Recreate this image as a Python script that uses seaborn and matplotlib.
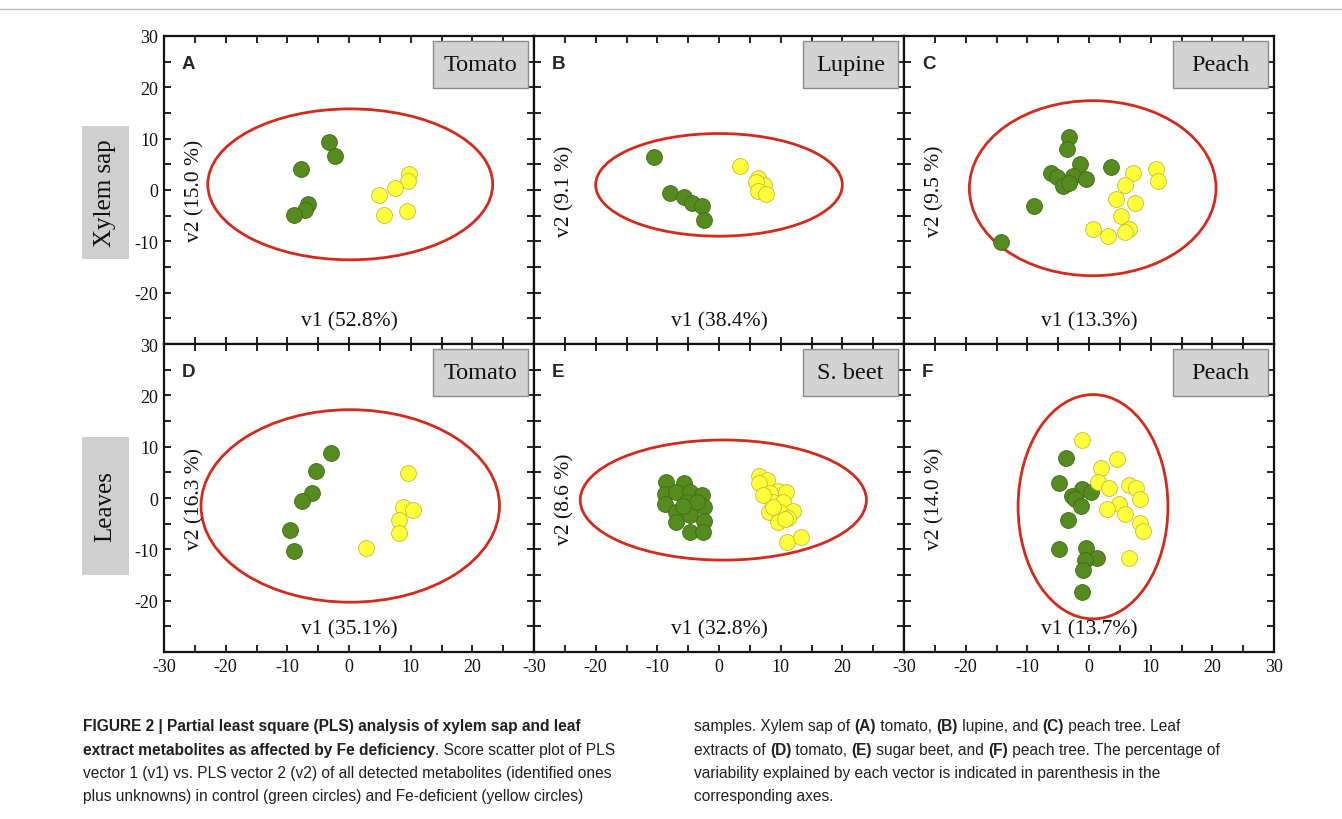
import numpy as np
import pandas as pd
import seaborn as sns
import matplotlib.pyplot as plt
from matplotlib.patches import Ellipse, Rectangle
from matplotlib.ticker import MultipleLocator

# panel data: control (green) and Fe-deficient (yellow) scores, v1 / v2
a_ctrl_x = [-3.2, -2.2, -7.8, -6.6, -7.2, -8.9]
a_ctrl_y = [9.3, 6.6, 4.1, -2.7, -3.9, -4.8]
a_fe_x = [9.8, 9.6, 7.4, 4.9, 5.7, 9.4]
a_fe_y = [3.1, 1.8, 0.3, -0.9, -4.8, -4.0]

b_ctrl_x = [-10.5, -7.9, -5.7, -4.4, -2.8, -2.4]
b_ctrl_y = [6.4, -0.5, -1.3, -2.5, -3.1, -5.8]
b_fe_x = [3.4, 6.3, 7.3, 6.0, 6.4, 7.6]
b_fe_y = [4.6, 2.3, 1.0, 1.5, -0.1, -0.8]

c_ctrl_x = [-3.3, -3.6, -1.5, -6.2, -5.2, -2.6, -4.2, -3.2, -0.5, 3.6, -9.0, -14.3]
c_ctrl_y = [10.4, 8.0, 5.0, 3.4, 2.5, 2.8, 0.8, 1.4, 2.1, 4.4, -3.2, -10.1]
c_fe_x = [7.2, 10.9, 11.2, 5.8, 4.4, 7.5, 5.2, 0.7, 3.0, 6.5, 5.8]
c_fe_y = [3.3, 4.0, 1.7, 1.0, -1.8, -2.6, -5.0, -7.5, -8.9, -7.6, -8.1]

d_ctrl_x = [-3.0, -5.4, -6.0, -7.7, -9.5, -9.0]
d_ctrl_y = [8.8, 5.2, 1.0, -0.6, -6.2, -10.3]
d_fe_x = [9.6, 8.8, 10.3, 8.1, 8.1, 2.7]
d_fe_y = [4.9, -1.8, -2.4, -4.2, -6.9, -9.7]

e_ctrl_x = [-8.6, -5.7, -8.8, -6.9, -4.7, -2.7, -8.8, -5.2, -2.5, -7.0,
            -4.7, -2.4, -6.9, -4.7, -2.6, -3.6, -5.8]
e_ctrl_y = [3.2, 2.9, 0.8, 1.1, 1.2, 0.5, -1.2, -0.8, -1.8, -2.7,
            -3.4, -4.4, -4.6, -6.7, -6.7, -0.8, -1.5]
e_fe_x = [6.5, 7.8, 6.5, 9.6, 10.8, 8.3, 8.8, 10.4, 12.0, 8.1,
          9.9, 11.2, 9.6, 10.7, 11.0, 13.3, 8.8, 7.2]
e_fe_y = [4.2, 3.6, 2.9, 1.4, 1.2, 1.0, -0.8, -0.8, -2.5, -2.8,
          -2.8, -3.8, -4.7, -4.0, -8.5, -7.5, -1.8, 0.5]

f_ctrl_x = [-3.7, -4.8, -1.1, 0.4, -2.7, -2.2, -1.3, -3.4, -4.8, -0.5,
            1.3, -0.6, -0.9, -1.1]
f_ctrl_y = [7.8, 2.9, 1.8, 1.1, 0.3, -0.2, -1.5, -4.2, -9.9, -9.7,
            -11.6, -12.0, -14.0, -18.4]
f_fe_x = [-1.2, 4.5, 2.0, 1.4, 3.2, 6.5, 7.6, 8.2, 4.8, 2.9, 5.8, 8.2, 8.8, 6.5]
f_fe_y = [11.3, 7.6, 5.8, 3.2, 2.0, 2.6, 2.0, -0.2, -1.2, -2.1, -3.1, -4.9,
          -6.5, -11.6]

# confidence ellipses: centre x, centre y, width, height
ell_cx = [0.2, 0.0, 0.6, 0.2, 0.7, 0.65]
ell_cy = [1.1, 1.0, 0.35, -1.55, -0.4, -1.7]
ell_w = [46.2, 40.0, 40.0, 48.4, 46.4, 24.3]
ell_h = [29.4, 20.0, 34.1, 37.5, 23.4, 43.7]

letters = ["A", "B", "C", "D", "E", "F"]
species = ["Tomato", "Lupine", "Peach", "Tomato", "S. beet", "Peach"]
v1_labels = ["v1 (52.8%)", "v1 (38.4%)", "v1 (13.3%)",
             "v1 (35.1%)", "v1 (32.8%)", "v1 (13.7%)"]
v2_labels = ["v2 (15.0 %)", "v2 (9.1 %)", "v2 (9.5 %)",
             "v2 (16.3 %)", "v2 (8.6 %)", "v2 (14.0 %)"]
row_labels = ["Xylem sap", "Leaves"]

panels = [
    (a_ctrl_x, a_ctrl_y, a_fe_x, a_fe_y),
    (b_ctrl_x, b_ctrl_y, b_fe_x, b_fe_y),
    (c_ctrl_x, c_ctrl_y, c_fe_x, c_fe_y),
    (d_ctrl_x, d_ctrl_y, d_fe_x, d_fe_y),
    (e_ctrl_x, e_ctrl_y, e_fe_x, e_fe_y),
    (f_ctrl_x, f_ctrl_y, f_fe_x, f_fe_y),
]

sns.set_style("ticks")
plt.rcParams['font.family'] = ['Liberation Serif', 'DejaVu Serif']
plt.rcParams['axes.unicode_minus'] = False

GREEN, GREEN_EDGE = "#558b1f", "#3f6a14"
YELLOW, YELLOW_EDGE = "#ffff3a", "#c2bb3a"
RED = "#d42a1c"
SANS = ['Liberation Sans', 'DejaVu Sans']

W, H = 1342, 820
fig = plt.figure(figsize=(W / 100, H / 100), dpi=100)
fig.patch.set_facecolor("white")

lefts = [164, 534, 904]
tops = [37, 345]
pw, ph = 370, 308

for i, (cx, cy, fx, fy) in enumerate(panels):
    r, c = divmod(i, 3)
    ax = fig.add_axes([lefts[c] / W, 1 - (tops[r] + ph) / H, pw / W, ph / H])
    df_c = pd.DataFrame({"v1": cx, "v2": cy})
    df_f = pd.DataFrame({"v1": fx, "v2": fy})
    sns.scatterplot(data=df_c, x="v1", y="v2", ax=ax, color=GREEN, s=130,
                    edgecolor=GREEN_EDGE, linewidth=0.6, zorder=3)
    sns.scatterplot(data=df_f, x="v1", y="v2", ax=ax, color=YELLOW, s=130,
                    edgecolor=YELLOW_EDGE, linewidth=0.6, zorder=3)
    ax.add_patch(Ellipse((ell_cx[i], ell_cy[i]), ell_w[i], ell_h[i],
                         fill=False, edgecolor=RED, lw=2.0, zorder=2))
    ax.set_xlim(-30, 30)
    ax.set_ylim(-30, 30)
    ax.set_xlabel("")
    ax.set_ylabel("")
    ax.xaxis.set_major_locator(MultipleLocator(10))
    ax.xaxis.set_minor_locator(MultipleLocator(5))
    ax.yaxis.set_major_locator(MultipleLocator(10))
    ax.yaxis.set_minor_locator(MultipleLocator(5))
    ax.tick_params(which="both", direction="in", top=True, right=True,
                   length=5, width=1.3, labelsize=13, pad=4, colors="#111111")
    for sp in ax.spines.values():
        sp.set_linewidth(1.6)
        sp.set_color("#111111")
        sp.set_visible(True)

    if c == 0:
        ax.set_yticks([-20, -10, 0, 10, 20, 30])
        ax.yaxis.set_minor_locator(MultipleLocator(5))
    else:
        ax.tick_params(axis="y", labelleft=False)
    if r == 1:
        if c < 2:
            ax.set_xticks([-30, -20, -10, 0, 10, 20])
            ax.xaxis.set_minor_locator(MultipleLocator(5))
    else:
        ax.tick_params(axis="x", labelbottom=False)

    ax.text(0.048, 0.911, letters[i], transform=ax.transAxes, family=SANS,
            fontweight="bold", fontsize=13.5, ha="left", va="center")
    ax.add_patch(Rectangle((0.726, 0.83), 0.259, 0.155, transform=ax.transAxes,
                           facecolor="#d3d3d3", edgecolor="#8c8c8c", lw=1.0,
                           zorder=4))
    ax.text(0.855, 0.907, species[i], transform=ax.transAxes, fontsize=17.5,
            ha="center", va="center", zorder=5, color="#111111")
    ax.text(0.5, 0.075, v1_labels[i], transform=ax.transAxes, fontsize=15.5,
            ha="center", va="center", color="#111111")
    ax.text(0.084, 0.5, v2_labels[i], transform=ax.transAxes, fontsize=15.5,
            ha="center", va="center", rotation=90, color="#111111")

# row labels in grey boxes
row_boxes = [(82, 127, 47, 133), (82, 438, 47, 138)]
for lab, (bx, by, bw, bh) in zip(row_labels, row_boxes):
    fig.patches.append(Rectangle((bx / W, 1 - (by + bh) / H), bw / W, bh / H,
                                 transform=fig.transFigure, facecolor="#cfcfcf",
                                 edgecolor="none"))
    fig.text((bx + bw / 2) / W, 1 - (by + bh / 2) / H, lab, fontsize=18,
             rotation=90, ha="center", va="center", color="#111111")

# thin frame line at top
fig.add_artist(plt.Line2D([0, 1], [1 - 10 / H, 1 - 10 / H],
                          transform=fig.transFigure, color="#bdbdbd", lw=1))

# caption
cap_left = [
    [("FIGURE 2 | Partial least square (PLS) analysis of xylem sap and leaf", True)],
    [("extract metabolites as affected by Fe deficiency", True),
     (". Score scatter plot of PLS", False)],
    [("vector 1 (v1) vs. PLS vector 2 (v2) of all detected metabolites (identified ones", False)],
    [("plus unknowns) in control (green circles) and Fe-deficient (yellow circles)", False)],
]
cap_right = [
    [("samples. Xylem sap of ", False), ("(A)", True), (" tomato, ", False),
     ("(B)", True), (" lupine, and ", False), ("(C)", True),
     (" peach tree. Leaf", False)],
    [("extracts of ", False), ("(D)", True), (" tomato, ", False), ("(E)", True),
     (" sugar beet, and ", False), ("(F)", True),
     (" peach tree. The percentage of", False)],
    [("variability explained by each vector is indicated in parenthesis in the", False)],
    [("corresponding axes.", False)],
]
line_y = [727, 751, 774, 797]

renderer = fig.canvas.get_renderer()


def rich_line(x_px, y_px, pieces, size=11.2):
    x = x_px / W
    for txt, bold in pieces:
        t = fig.text(x, 1 - y_px / H, txt, fontsize=size, family=SANS,
                     fontweight="bold" if bold else "normal",
                     ha="left", va="center", color="#231f20")
        bb = t.get_window_extent(renderer)
        x += bb.width / W


for pieces, y in zip(cap_left, line_y):
    rich_line(83, y, pieces)
for pieces, y in zip(cap_right, line_y):
    rich_line(694, y, pieces)

fig.savefig("out.png", dpi=100, facecolor="white")
